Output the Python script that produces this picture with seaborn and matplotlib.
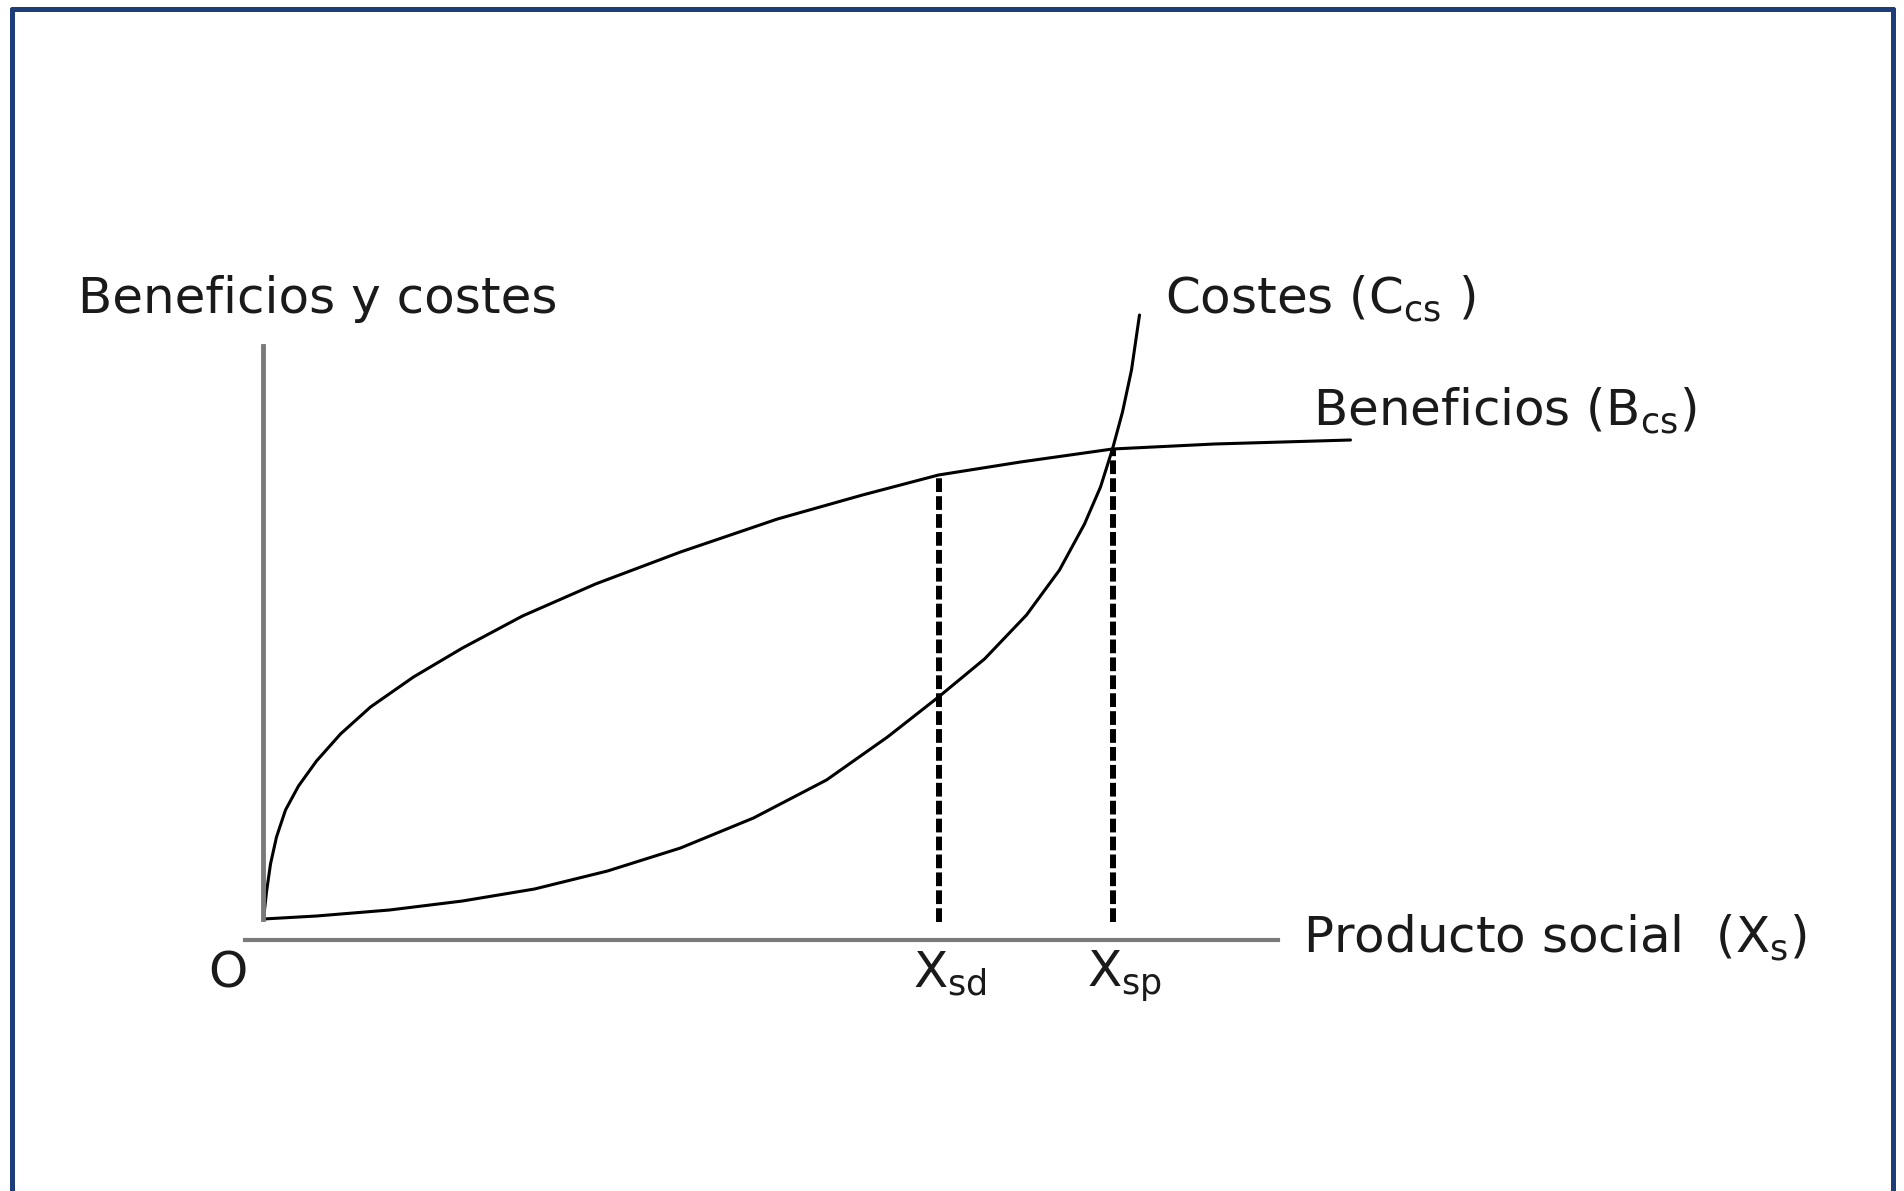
#!/usr/bin/env python3
"""Benefits vs. costs of social product: schematic diagram with the two
equilibrium points X_sd and X_sp marked by dashed verticals.
"""

import matplotlib.pyplot as plt
import pandas as pd
import seaborn as sns
from matplotlib.lines import Line2D

sns.set_theme(style="white")
plt.rcParams['font.family'] = ['DejaVu Sans']
plt.rcParams['mathtext.fontset'] = 'dejavusans'

# Curves (origin at the foot of the vertical axis)
BEN_X = [0.0, 0.03, 0.07, 0.13, 0.22, 0.35, 0.53, 0.77, 1.07, 1.50, 1.99,
         2.59, 3.32, 4.17, 5.14, 5.99, 6.75, 7.57, 8.49, 9.51, 10.87]
BEN_Y = [0.0, 0.27, 0.55, 0.82, 1.09, 1.33, 1.58, 1.85, 2.12, 2.42, 2.71,
         3.03, 3.35, 3.67, 4.00, 4.24, 4.44, 4.57, 4.70, 4.75, 4.79]
COST_X = [0.0, 0.53, 1.26, 1.99, 2.71, 3.44, 4.17, 4.90, 5.63, 6.24, 6.75,
          7.21, 7.63, 7.96, 8.21, 8.37, 8.49, 8.59, 8.68, 8.76]
COST_Y = [0.0, 0.03, 0.09, 0.18, 0.30, 0.48, 0.71, 1.01, 1.39, 1.82, 2.22,
          2.60, 3.04, 3.49, 3.95, 4.32, 4.70, 5.07, 5.49, 6.04]
# Equilibrium points: X_sd (on benefits curve) and X_sp (intersection)
EQ_X = [6.75, 8.49]
EQ_Y = [4.44, 4.70]
EQ_LABELS = ["X$_{\\mathregular{sd}}$", "X$_{\\mathregular{sp}}$"]

W, H = 1904, 1191
ORIGIN = (263.5, 919)   # pixel position of data (0, 0)
SCALE = 100             # pixels per data unit

TXT = dict(fontsize=36, color="#1a1a1a", ha="left", va="baseline")


def main():
    ben = pd.DataFrame({"x": BEN_X, "y": BEN_Y})
    cost = pd.DataFrame({"x": COST_X, "y": COST_Y})

    fig = plt.figure(figsize=(W / 100, H / 100), dpi=100)
    ax = fig.add_axes([0, 0, 1, 1])
    ax.set_xlim(-ORIGIN[0] / SCALE, (W - ORIGIN[0]) / SCALE)
    ax.set_ylim((ORIGIN[1] - H) / SCALE, ORIGIN[1] / SCALE)

    # Curves
    sns.lineplot(data=ben, x="x", y="y", ax=ax, sort=False, estimator=None,
                 color="black", lw=2.2)
    sns.lineplot(data=cost, x="x", y="y", ax=ax, sort=False, estimator=None,
                 color="black", lw=2.2)
    ax.vlines(EQ_X, -0.03, EQ_Y, colors="black", lw=4.3,
              linestyles=[(0, (2.3, 0.7))])

    # Axes as loose spines
    for s in ["top", "right"]:
        ax.spines[s].set_visible(False)
    ax.spines["left"].set_position(("data", 0))
    ax.spines["left"].set_bounds(0, 5.73)
    ax.spines["left"].set(color="#7a7a7a", linewidth=3.5)
    ax.spines["bottom"].set_position(("data", -0.21))
    ax.spines["bottom"].set_bounds(-0.185, 10.14)
    ax.spines["bottom"].set(color="#7a7a7a", linewidth=3.0)
    ax.set(xticks=[], yticks=[], xlabel="", ylabel="")
    ax.patch.set_alpha(0)

    # Labels
    ax.text(-1.855, 6.06, "Beneficios y costes", **TXT)
    ax.text(9.015, 6.06, "Costes (C$_{\\mathregular{cs}}$ )", **TXT)
    ax.text(10.495, 4.94, "Beneficios (B$_{\\mathregular{cs}}$)", **TXT)
    ax.text(10.395, -0.33, "Producto social  (X$_{\\mathregular{s}}$)", **TXT)
    ax.text(-0.555, -0.68, "O", **TXT)
    for x, lab in zip(EQ_X, EQ_LABELS):
        ax.text(x - 0.255, -0.68, lab, **TXT)

    # Blue frame (open at the bottom)
    frame = dict(color="#1c3d7a", lw=3.6, transform=fig.transFigure)
    xl, xr, yt = 12 / W, 1893 / W, 1 - 9 / H
    fig.add_artist(Line2D([xl, xr], [yt, yt], **frame))
    fig.add_artist(Line2D([xl, xl], [0, yt], **frame))
    fig.add_artist(Line2D([xr, xr], [0, yt], **frame))

    fig.savefig("out.png", dpi=100)


if __name__ == '__main__':
    main()
